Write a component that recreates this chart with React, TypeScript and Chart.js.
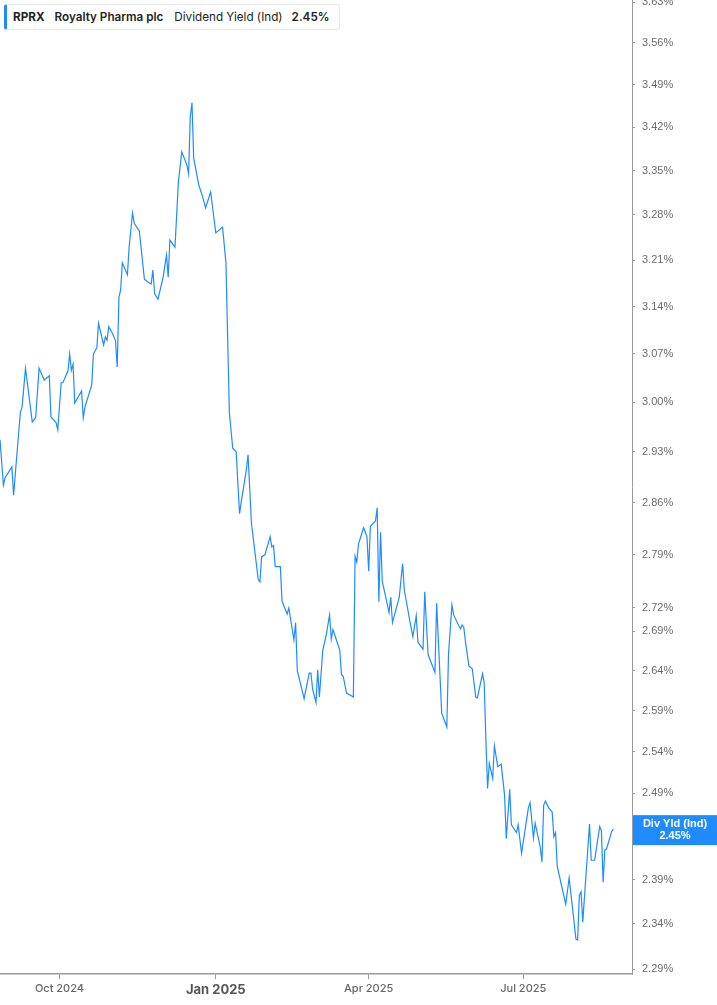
import { useEffect, useRef } from 'react'
import { Chart, registerables } from 'chart.js'

Chart.register(...registerables)

// daily dividend yield (Ind), %
const dates = [
  '2024-08-27', '2024-08-29', '2024-08-30', '2024-09-03', '2024-09-04', '2024-09-06', '2024-09-08', '2024-09-09',
  '2024-09-11', '2024-09-15', '2024-09-17', '2024-09-19', '2024-09-22', '2024-09-25', '2024-09-26', '2024-09-29',
  '2024-09-30', '2024-10-02', '2024-10-03', '2024-10-06', '2024-10-07', '2024-10-08', '2024-10-09', '2024-10-10',
  '2024-10-14', '2024-10-15', '2024-10-16', '2024-10-20', '2024-10-21', '2024-10-23', '2024-10-24', '2024-10-27',
  '2024-10-28', '2024-10-29', '2024-10-30', '2024-11-01', '2024-11-03', '2024-11-04', '2024-11-05', '2024-11-06',
  '2024-11-07', '2024-11-10', '2024-11-11', '2024-11-13', '2024-11-14', '2024-11-17', '2024-11-20', '2024-11-22',
  '2024-11-24', '2024-11-25', '2024-11-26', '2024-11-28', '2024-12-01', '2024-12-03', '2024-12-04', '2024-12-05',
  '2024-12-08', '2024-12-10', '2024-12-12', '2024-12-15', '2024-12-16', '2024-12-17', '2024-12-18', '2024-12-19',
  '2024-12-22', '2024-12-24', '2024-12-26', '2024-12-29', '2025-01-01', '2025-01-05', '2025-01-07', '2025-01-09',
  '2025-01-11', '2025-01-13', '2025-01-15', '2025-01-16', '2025-01-19', '2025-01-20', '2025-01-22', '2025-01-26',
  '2025-01-27', '2025-01-28', '2025-01-30', '2025-02-02', '2025-02-03', '2025-02-04', '2025-02-05', '2025-02-08',
  '2025-02-09', '2025-02-12', '2025-02-13', '2025-02-16', '2025-02-17', '2025-02-18', '2025-02-22', '2025-02-25',
  '2025-02-26', '2025-02-27', '2025-03-01', '2025-03-02', '2025-03-03', '2025-03-05', '2025-03-07', '2025-03-09',
  '2025-03-10', '2025-03-11', '2025-03-15', '2025-03-16', '2025-03-17', '2025-03-19', '2025-03-23', '2025-03-24',
  '2025-03-25', '2025-03-26', '2025-03-29', '2025-03-31', '2025-04-01', '2025-04-02', '2025-04-05', '2025-04-06',
  '2025-04-07', '2025-04-08', '2025-04-09', '2025-04-13', '2025-04-14', '2025-04-15', '2025-04-19', '2025-04-21',
  '2025-04-22', '2025-04-26', '2025-04-27', '2025-04-29', '2025-04-30', '2025-05-03', '2025-05-04', '2025-05-06',
  '2025-05-10', '2025-05-11', '2025-05-14', '2025-05-17', '2025-05-18', '2025-05-20', '2025-05-21', '2025-05-25',
  '2025-05-26', '2025-05-27', '2025-05-28', '2025-05-30', '2025-06-01', '2025-06-03', '2025-06-04', '2025-06-07',
  '2025-06-08', '2025-06-09', '2025-06-10', '2025-06-11', '2025-06-13', '2025-06-14', '2025-06-16', '2025-06-18',
  '2025-06-20', '2025-06-21', '2025-06-23', '2025-06-24', '2025-06-27', '2025-06-28', '2025-06-30', '2025-07-04',
  '2025-07-05', '2025-07-07', '2025-07-08', '2025-07-11', '2025-07-12', '2025-07-13', '2025-07-14', '2025-07-16',
  '2025-07-18', '2025-07-19', '2025-07-20', '2025-07-21', '2025-07-26', '2025-07-28', '2025-08-01', '2025-08-02',
  '2025-08-03', '2025-08-04', '2025-08-05', '2025-08-09', '2025-08-10', '2025-08-12', '2025-08-15', '2025-08-16',
  '2025-08-17', '2025-08-18', '2025-08-19', '2025-08-22', '2025-08-23',
]

const yields = [
  2.947, 2.884, 2.894, 2.909, 2.870, 2.928, 2.986, 2.993,
  3.049, 2.972, 2.978, 3.049, 3.032, 3.038, 2.979, 2.971,
  2.961, 3.028, 3.028, 3.045, 3.070, 3.046, 3.055, 2.999,
  3.016, 2.978, 2.993, 3.025, 3.070, 3.079, 3.115, 3.083,
  3.095, 3.090, 3.110, 3.101, 3.089, 3.051, 3.154, 3.165,
  3.206, 3.188, 3.230, 3.283, 3.267, 3.255, 3.181, 3.177,
  3.174, 3.195, 3.159, 3.151, 3.184, 3.218, 3.184, 3.241,
  3.230, 3.332, 3.380, 3.359, 3.345, 3.437, 3.460, 3.370,
  3.327, 3.311, 3.291, 3.316, 3.252, 3.261, 3.206, 2.985,
  2.935, 2.930, 2.845, 2.861, 2.905, 2.926, 2.832, 2.757,
  2.754, 2.787, 2.790, 2.814, 2.800, 2.802, 2.774, 2.774,
  2.729, 2.712, 2.720, 2.679, 2.701, 2.640, 2.605, 2.637,
  2.637, 2.617, 2.600, 2.641, 2.607, 2.666, 2.685, 2.711,
  2.680, 2.692, 2.666, 2.635, 2.633, 2.612, 2.607, 2.788,
  2.780, 2.804, 2.826, 2.814, 2.768, 2.828, 2.835, 2.853,
  2.728, 2.820, 2.755, 2.714, 2.734, 2.701, 2.734, 2.778,
  2.743, 2.694, 2.683, 2.710, 2.676, 2.667, 2.741, 2.660,
  2.638, 2.726, 2.587, 2.570, 2.661, 2.724, 2.711, 2.693,
  2.698, 2.695, 2.676, 2.646, 2.642, 2.607, 2.606, 2.636,
  2.625, 2.554, 2.496, 2.526, 2.508, 2.547, 2.522, 2.525,
  2.488, 2.437, 2.495, 2.453, 2.444, 2.453, 2.420, 2.473,
  2.479, 2.438, 2.455, 2.427, 2.410, 2.476, 2.481, 2.473,
  2.468, 2.439, 2.444, 2.405, 2.362, 2.392, 2.323, 2.322,
  2.372, 2.376, 2.342, 2.454, 2.412, 2.412, 2.451, 2.446,
  2.387, 2.424, 2.425, 2.445, 2.448,
]

const yTicks = [
  3.63, 3.56, 3.49, 3.42, 3.35, 3.28, 3.21, 3.14, 3.07, 3.0, 2.93, 2.86,
  2.79, 2.72, 2.69, 2.64, 2.59, 2.54, 2.49, 2.44, 2.39, 2.34, 2.29,
]
const xTickDates = ['2024-10-01', '2025-01-01', '2025-04-01', '2025-07-01']
const xTickLabels = ['Oct 2024', 'Jan 2025', 'Apr 2025', 'Jul 2025']
const xStart = '2024-08-27'
const xEnd = '2025-09-03'

const ticker = 'RPRX'
const company = 'Royalty Pharma plc'
const metric = 'Dividend Yield (Ind)'
const endTag = 'Div Yld (Ind)'

const BLUE = '#1e8cff'
const AXIS = '#9a9a9a'

const toDay = (s: string) =>
  Date.UTC(+s.slice(0, 4), +s.slice(5, 7) - 1, +s.slice(8, 10)) / 86400000

const endLabelPlugin = {
  id: 'endLabel',
  afterDraw(chart: any) {
    const { ctx, chartArea, scales } = chart
    const last = yields[yields.length - 1]
    const y = scales.y.getPixelForValue(last) + 1
    const x0 = chartArea.right + 1
    const w = chart.width - x0
    ctx.save()
    ctx.fillStyle = BLUE
    ctx.fillRect(x0, y - 15, w, 30)
    ctx.fillStyle = '#ffffff'
    ctx.font = 'bold 11px "Liberation Sans", Arial, sans-serif'
    ctx.textAlign = 'center'
    ctx.textBaseline = 'middle'
    ctx.fillText(endTag, x0 + w / 2, y - 6)
    ctx.fillText(last.toFixed(2) + '%', x0 + w / 2, y + 6)
    ctx.restore()
  },
}

function YieldChart() {
  const canvasRef = useRef<HTMLCanvasElement>(null)
  const chartRef = useRef<Chart | null>(null)

  useEffect(() => {
    if (!canvasRef.current) return
    if (chartRef.current) chartRef.current.destroy()

    const points = dates.map((d, i) => ({ x: toDay(d), y: yields[i] }))

    chartRef.current = new Chart(canvasRef.current, {
      type: 'line',
      data: {
        datasets: [
          {
            label: metric,
            data: points,
            borderColor: BLUE,
            borderWidth: 1.2,
            pointRadius: 0,
            tension: 0,
            fill: false,
          },
        ],
      },
      options: {
        responsive: false,
        animation: false,
        devicePixelRatio: 1,
        layout: { padding: 0 },
        plugins: {
          legend: { display: false },
          tooltip: { enabled: false },
        },
        scales: {
          x: {
            type: 'linear',
            min: toDay(xStart),
            max: toDay(xEnd),
            grid: { drawOnChartArea: false, drawTicks: true, tickLength: 5, color: AXIS },
            border: { display: true, color: AXIS, width: 1.5 },
            afterBuildTicks: (scale: any) => {
              scale.ticks = xTickDates.map((d) => ({ value: toDay(d) }))
            },
            afterFit: (scale: any) => {
              scale.height = 31
              scale.paddingLeft = 0
              scale.paddingRight = 0
            },
            ticks: {
              autoSkip: false,
              maxRotation: 0,
              padding: 3,
              callback: (_v: any, i: number) => xTickLabels[i],
              color: (c: any) => (c.index === 1 ? '#555' : '#666'),
              font: (c: any) =>
                c.index === 1
                  ? { family: 'Inter, "Noto Sans", sans-serif', size: 13, weight: 'bold' }
                  : { family: 'Inter, "Noto Sans", sans-serif', size: 11, weight: '500' },
            },
          },
          y: {
            type: 'logarithmic',
            position: 'right',
            min: 2.2848,
            max: 3.6336,
            grid: { drawOnChartArea: false, drawTicks: true, tickLength: 3, color: AXIS },
            border: { display: true, color: AXIS, width: 1 },
            afterBuildTicks: (scale: any) => {
              scale.ticks = yTicks.map((v) => ({ value: v }))
            },
            afterFit: (scale: any) => {
              scale.width = 85
              scale.paddingTop = 0
              scale.paddingBottom = 0
            },
            ticks: {
              autoSkip: false,
              padding: 7,
              color: '#6b6b6b',
              font: { family: '"Liberation Sans", Arial, sans-serif', size: 11 },
              callback: (v: any) => Number(v).toFixed(2) + '%',
            },
          },
        },
      },
      plugins: [endLabelPlugin],
    } as any)

    return () => {
      if (chartRef.current) {
        chartRef.current.destroy()
        chartRef.current = null
      }
    }
  }, [])

  return <canvas ref={canvasRef} width={717} height={1005} style={{ display: 'block' }} />
}

export default function App() {
  return (
    <div style={{ position: 'absolute', left: 0, top: 0, width: 717, height: 1005, background: '#fff' }}>
      <YieldChart />
      <div
        style={{
          position: 'absolute',
          left: 4,
          top: 4,
          height: 26,
          width: 336,
          boxSizing: 'border-box',
          background: '#fff',
          border: '1px solid #e8e8e8',
          borderLeft: `3px solid ${BLUE}`,
          borderRadius: 3,
          display: 'flex',
          alignItems: 'center',
          paddingLeft: 6,
          fontFamily: 'Inter, "Noto Sans", sans-serif',
          fontSize: 11.7,
          color: '#222',
          whiteSpace: 'nowrap',
        }}
      >
        <span style={{ fontWeight: 700, marginRight: 10 }}>{ticker}</span>
        <span style={{ fontWeight: 600, marginRight: 11 }}>{company}</span>
        <span style={{ fontWeight: 400, marginRight: 9 }}>{metric}</span>
        <span style={{ fontWeight: 600 }}>{yields[yields.length - 1].toFixed(2)}%</span>
      </div>
    </div>
  )
}
